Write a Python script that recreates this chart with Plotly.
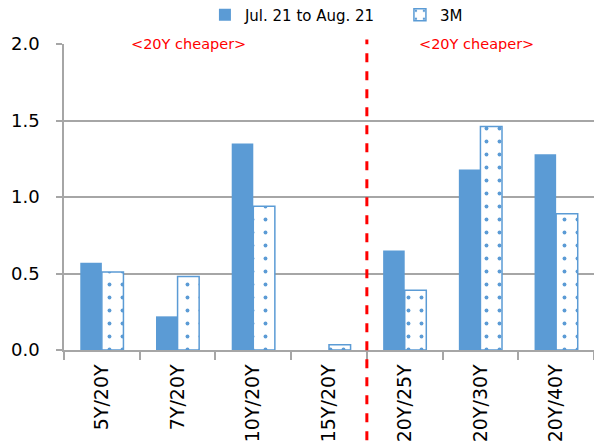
import plotly.graph_objects as go

categories = ["5Y/20Y", "7Y/20Y", "10Y/20Y", "15Y/20Y", "20Y/25Y", "20Y/30Y", "20Y/40Y"]
jul_aug = [0.57, 0.22, 1.35, 0.0, 0.65, 1.18, 1.28]
three_m = [0.51, 0.48, 0.94, 0.035, 0.39, 1.46, 0.89]
series_names = ["Jul. 21 to Aug. 21", "3M"]
annotation_text = "<20Y cheaper>"

BLUE = "#5B9BD5"
GRID = "#A6A6A6"
FONT = "DejaVu Sans, sans-serif"

fig = go.Figure()
fig.add_trace(go.Bar(
    x=categories, y=jul_aug, name=series_names[0],
    marker=dict(color=BLUE, line=dict(width=0)),
))
fig.add_trace(go.Bar(
    x=categories, y=three_m, name=series_names[1],
    marker=dict(color="white", line=dict(color=BLUE, width=1.5),
                pattern=dict(shape=".", fgcolor=BLUE, bgcolor="white",
                             size=13, solidity=0.07, fillmode="replace")),
))

for xp in [0.234, 0.779]:
    fig.add_annotation(x=xp, xref="paper", xanchor="center", y=2.0, yref="y",
                       yanchor="middle", text=annotation_text, showarrow=False,
                       font=dict(color="#FF0000", size=14.5, family=FONT),
                       bgcolor="white", borderpad=6)

fig.add_shape(type="line", x0=3.5, x1=3.5, xref="x", y0=-0.295, y1=1.015, yref="paper",
              line=dict(color="#FF0000", width=3, dash="dash"))

fig.update_layout(
    width=594, height=448,
    margin=dict(l=64, r=0, t=44, b=98),
    plot_bgcolor="white", paper_bgcolor="white",
    barmode="group", bargap=0.43, bargroupgap=0,
    font=dict(family=FONT, color="black"),
    legend=dict(orientation="h", xref="container", yref="container",
                x=0.345, xanchor="left", y=0.9665, yanchor="middle",
                font=dict(size=15, family=FONT), itemwidth=30, entrywidth=150,
                traceorder="normal"),
    xaxis=dict(showline=True, linecolor=GRID, linewidth=1.5, ticks="outside",
               tickson="boundaries", ticklen=8, tickcolor=GRID, tickwidth=1.5,
               tickangle=-90, tickfont=dict(size=19, family=FONT), showgrid=False,
               ticklabelstandoff=5),
    yaxis=dict(range=[0, 2.0], dtick=0.5, tickformat=".1f", showline=True,
               linecolor=GRID, linewidth=1.5, ticks="outside", ticklen=6,
               tickcolor=GRID, tickwidth=1.5, gridcolor=GRID, gridwidth=1.5,
               zeroline=False, tickfont=dict(size=18, family=FONT),
               ticklabelstandoff=13),
)

# remove the page's default 8px body margin so the figure fills the window exactly
fig.write_html("out.html", config={"displayModeBar": False},
               post_script="document.body.style.margin='0';")
